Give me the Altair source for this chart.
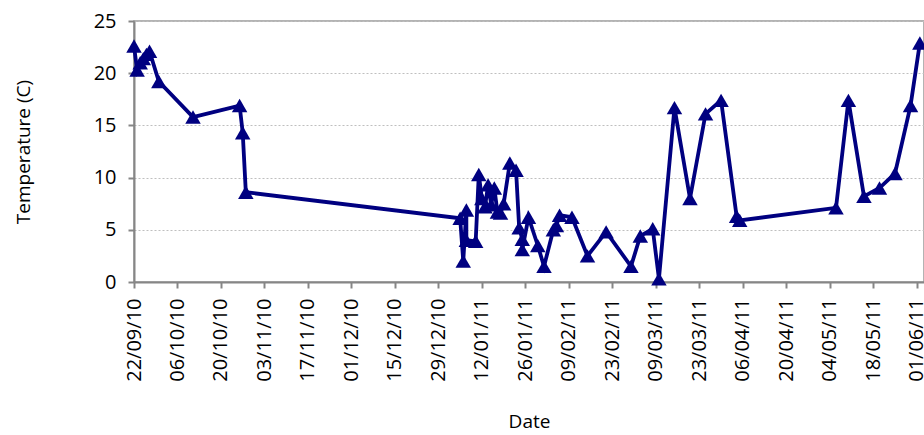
import altair as alt
import pandas as pd

dates = [
    "2010-09-22", "2010-09-23", "2010-09-24", "2010-09-25", "2010-09-26", "2010-09-27",
    "2010-09-30", "2010-10-11", "2010-10-26", "2010-10-27", "2010-10-28",
    "2011-01-05", "2011-01-06", "2011-01-07", "2011-01-07", "2011-01-10", "2011-01-11",
    "2011-01-12", "2011-01-13", "2011-01-14", "2011-01-15", "2011-01-16", "2011-01-17",
    "2011-01-18", "2011-01-19", "2011-01-21", "2011-01-23", "2011-01-24", "2011-01-25",
    "2011-01-25", "2011-01-27", "2011-01-30", "2011-02-01", "2011-02-04", "2011-02-05",
    "2011-02-06", "2011-02-10", "2011-02-15", "2011-02-21", "2011-03-01", "2011-03-04",
    "2011-03-08", "2011-03-10", "2011-03-15", "2011-03-20", "2011-03-25", "2011-03-30",
    "2011-04-04", "2011-04-05", "2011-05-06", "2011-05-10", "2011-05-15", "2011-05-20",
    "2011-05-25", "2011-05-30", "2011-06-02",
]
temps = [
    22.6, 20.3, 21.0, 21.4, 21.8, 22.1,
    19.2, 15.8, 16.9, 14.3, 8.6,
    6.1, 2.0, 6.9, 4.0, 3.9, 10.3,
    8.0, 7.2, 9.3, 7.4, 9.0, 6.7,
    6.6, 7.5, 11.4, 10.7, 5.2, 4.1,
    3.1, 6.2, 3.5, 1.5, 5.0, 5.4,
    6.4, 6.2, 2.5, 4.8, 1.5, 4.4,
    5.1, 0.3, 16.7, 8.0, 16.1, 17.4,
    6.3, 5.9, 7.1, 17.4, 8.2, 9.0,
    10.4, 16.9, 22.9,
]
tick_labels = [
    "22/09/10", "06/10/10", "20/10/10", "03/11/10", "17/11/10", "01/12/10",
    "15/12/10", "29/12/10", "12/01/11", "26/01/11", "09/02/11", "23/02/11",
    "09/03/11", "23/03/11", "06/04/11", "20/04/11", "04/05/11", "18/05/11",
    "01/06/11",
]
y_ticks = [0, 5, 10, 15, 20, 25]

df = pd.DataFrame({"date": dates, "temp": temps, "idx": list(range(len(dates)))})

tick_values = []
for lab in tick_labels:
    d, m, y = lab.split("/")
    tick_values.append(alt.DateTime(year=2000 + int(y), month=int(m), date=int(d), utc=True))

FONT = "Open Sans"
NAVY = "#000080"

chart = (
    alt.Chart(df)
    .mark_line(
        color=NAVY,
        strokeWidth=3.8,
        point=alt.OverlayMarkDef(shape="triangle-up", size=240, filled=True, color=NAVY, opacity=1),
    )
    .encode(
        x=alt.X(
            "date:T",
            scale=alt.Scale(
                type="utc",
                domain=[
                    alt.DateTime(year=2010, month=9, date=22, utc=True),
                    alt.DateTime(year=2011, month=6, date=3, hours=8, utc=True),
                ],
            ),
            axis=alt.Axis(
                title="Date",
                values=tick_values,
                format="%d/%m/%y",
                labelAngle=270,
                grid=False,
                tickSize=6,
                labelPadding=10,
                titlePadding=31,
            ),
        ),
        y=alt.Y(
            "temp:Q",
            scale=alt.Scale(domain=[0, 25], nice=False),
            axis=alt.Axis(
                title="Temperature (C)",
                values=y_ticks,
                grid=True,
                gridDash=[2, 2],
                gridColor="#bfbfbf",
                gridWidth=1,
                tickSize=6,
                labelPadding=12,
                titlePadding=60,
            ),
        ),
        order="idx:Q",
    )
    .properties(
        width=790,
        height=261,
        autosize=alt.AutoSizeParams(type="none"),
        padding={"left": 134, "top": 21, "right": 0, "bottom": 153},
    )
    .configure_view(stroke="#9a9a9a", strokeWidth=1.5)
    .configure_axis(
        domainColor="#868686",
        domainWidth=2,
        tickColor="#868686",
        tickWidth=2,
        labelFont=FONT,
        labelFontSize=20,
        labelColor="#000000",
        titleFont=FONT,
        titleFontSize=19,
        titleFontWeight="normal",
        titleColor="#000000",
    )
)

chart.save("out.html", embed_options={"renderer": "svg", "actions": False})
